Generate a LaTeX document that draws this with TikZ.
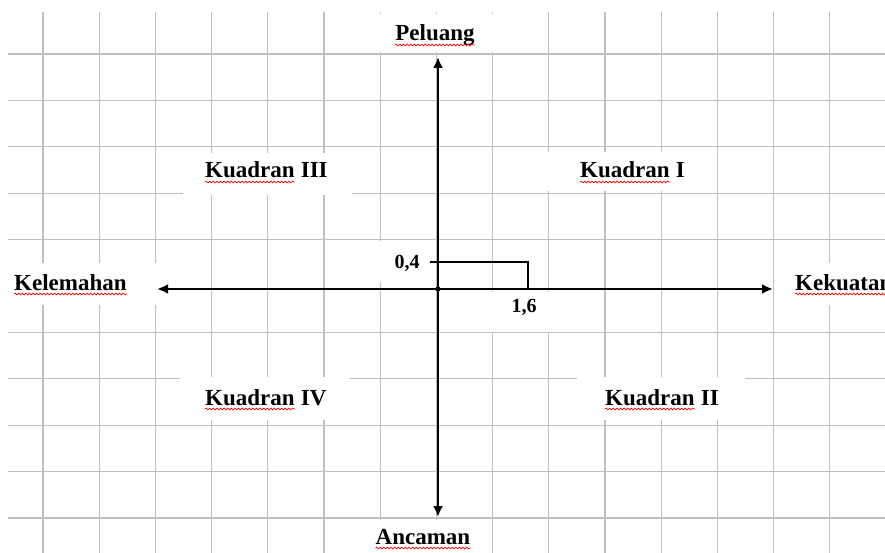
\documentclass[tikz,border=0pt]{standalone}
\usepackage{fontspec}
\setmainfont{Liberation Serif}
\usetikzlibrary{arrows.meta,decorations.pathmorphing}
\begin{document}
\begin{tikzpicture}[x=1pt,y=-1pt,
  gridline/.style={line width=1.3pt, draw=black!25},
  blank/.style={fill=white, draw=none},
  lbl/.style={font=\bfseries\fontsize{23}{27}\selectfont, inner sep=0pt, anchor=base},
  numlbl/.style={font=\bfseries\fontsize{20}{24}\selectfont, inner sep=0pt, anchor=base},
  axisline/.style={line width=2.6pt, black, {Latex[length=11pt,width=10pt]}-{Latex[length=11pt,width=10pt]}},
  boxline/.style={line width=1.8pt, black},
  wavy/.style={red, line width=0.7pt, decorate, decoration={snake, amplitude=0.9pt, segment length=3.6pt}}]
\useasboundingbox (0,0) rectangle (885,553);
\clip (0,0) rectangle (885,553);
\fill[white] (0,0) rectangle (885,553);
% grid
\foreach \i in {0,...,14} {\draw[gridline] ({43+56.2*\i},12) -- ({43+56.2*\i},553);}
\foreach \j in {0,1,2,3,4,6,7,8,9,10} {\draw[gridline] (8,{54+46.4*\j}) -- (885,{54+46.4*\j});}
% white label backgrounds
\fill[blank] (328,14) rectangle (543,52);
\fill[blank] (183,153) rectangle (352,195);
\fill[blank] (520,152) rectangle (705,191);
\fill[blank] (0,263) rectangle (158,305);
\fill[blank] (775,263) rectangle (885,305);
\fill[blank] (352,241) rectangle (432,282);
\fill[blank] (468,292) rectangle (560,332);
\fill[blank] (180,377) rectangle (349,420);
\fill[blank] (577,377) rectangle (745,420);
\fill[blank] (335,520) rectangle (488,553);
% axes
\coordinate (O) at (438,289);
\coordinate (top) at (438,57);
\coordinate (bot) at (438,517);
\coordinate (lft) at (157,289);
\coordinate (rgt) at (773,289);
\draw[axisline] (bot) -- (top);
\draw[axisline] (lft) -- (rgt);
\fill (O) circle (2.5);
% point box
\coordinate (t04) at (430,262);
\coordinate (c) at (528,262);
\coordinate (p16) at (528,289);
\draw[boxline] (t04) -- (c) -- (p16);
% labels
\node[lbl] (pel) at (435,41) {Peluang};
\node[lbl] (anc) at (423,544) {Ancaman};
\node[lbl, anchor=base west] (kel) at (14,290) {Kelemahan};
\node[lbl, anchor=base west] (kek) at (795,290) {Kekuatan};
\node[lbl, anchor=base west] (k3) at (205,178) {Kuadran};
\node[lbl, anchor=base west] (k3n) at (k3.base east) {\ III};
\node[lbl, anchor=base west] (k1) at (580,178) {Kuadran};
\node[lbl, anchor=base west] (k1n) at (k1.base east) {\ I};
\node[lbl, anchor=base west] (k4) at (205,405) {Kuadran};
\node[lbl, anchor=base west] (k4n) at (k4.base east) {\ IV};
\node[lbl, anchor=base west] (k2) at (605,405) {Kuadran};
\node[lbl, anchor=base west] (k2n) at (k2.base east) {\ II};
\node[numlbl] (n04) at (407,268) {0,4};
\node[numlbl] (n16) at (524,312) {1,6};
% spell-check underlines
\foreach \n in {pel,anc,kel,kek,k3,k1,k4,k2} {
  \draw[wavy] ([yshift=-4pt]\n.base west) -- ([yshift=-4pt]\n.base east);
}
\end{tikzpicture}
\end{document}
